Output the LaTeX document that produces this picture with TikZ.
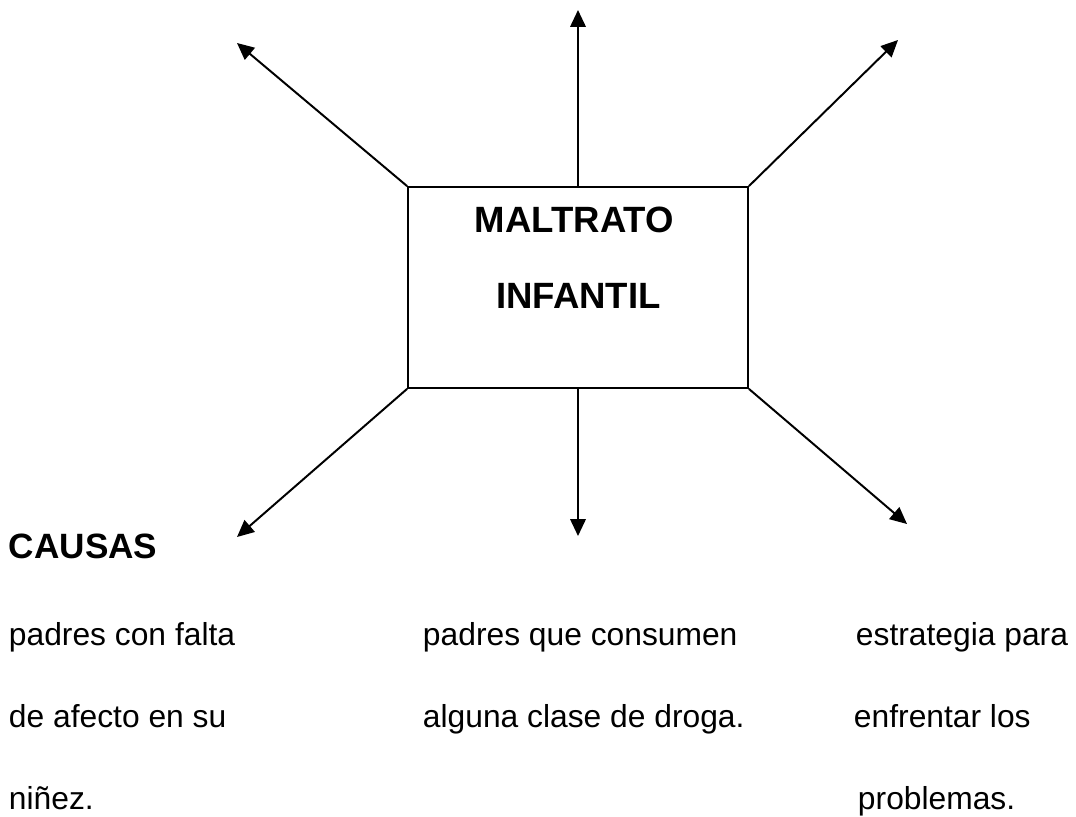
\documentclass[tikz,border=0pt]{standalone}
\usepackage{fontspec}
\setmainfont{Liberation Sans}
\usetikzlibrary{arrows.meta}

\begin{document}
\begin{tikzpicture}[x=0.025cm,y=-0.025cm,line width=1.4pt]
    \tikzset{flecha/.style={-{Triangle[length=12pt,width=11pt]}},
        texto/.style={anchor=base west,inner sep=0pt,font=\fontsize{22.6}{27}\selectfont},
        titulo/.style={anchor=base,inner sep=0pt,font=\fontsize{26}{30}\selectfont\bfseries}}
    \useasboundingbox (0,0) rectangle (1076,816);

    \node[draw,line width=1.2pt,minimum width=8.5cm,minimum height=5.025cm,inner sep=0pt] (box) at (578,287.5) {};
    \node[titulo] (t1) at (574.5,232) {MALTRATO};
    \node[titulo] (t2) at (578.5,308) {INFANTIL};

    \coordinate (tl) at (237,43);
    \coordinate (tm) at (578,10);
    \coordinate (tr) at (898,40);
    \coordinate (bl) at (237,537);
    \coordinate (bm) at (578,536);
    \coordinate (br) at (907,524);

    \draw[flecha] (box.north west) -- (tl);
    \draw[flecha] (box.north) -- (tm);
    \draw[flecha] (box.north east) -- (tr);
    \draw[flecha] (box.south west) -- (bl);
    \draw[flecha] (box.south) -- (bm);
    \draw[flecha] (box.south east) -- (br);

    \node[anchor=base west,inner sep=0pt,font=\fontsize{25}{30}\selectfont\bfseries] (causas) at (8,558) {CAUSAS};

    \node[texto] (a1) at (8,645) {padres con falta};
    \node[texto] (a2) at (8,727) {de afecto en su};
    \node[texto] (a3) at (8,809) {niñez.};

    \node[texto] (b1) at (422,645) {padres que consumen};
    \node[texto] (b2) at (422,727) {alguna clase de droga.};

    \node[texto] (c1) at (855,645) {estrategia para};
    \node[texto] (c2) at (853,727) {enfrentar los};
    \node[texto] (c3) at (857,809) {problemas.};

\end{tikzpicture}
\end{document}
